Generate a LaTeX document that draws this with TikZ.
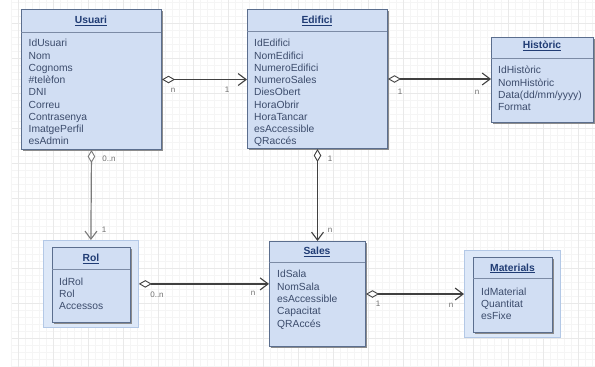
\documentclass[tikz,border=0pt]{standalone}
\usepackage{fontspec}
\setmainfont{Liberation Sans}
\usetikzlibrary{arrows.meta}
\definecolor{boxfill}{HTML}{D1DEF3}
\definecolor{boxdraw}{HTML}{5B6E8E}
\definecolor{outerfill}{HTML}{DDE8F8}
\definecolor{outerdraw}{HTML}{B3C8E6}
\definecolor{titlecol}{HTML}{203C74}
\definecolor{attrcol}{HTML}{3C4C6C}
\definecolor{linecol}{HTML}{404040}
\definecolor{lightline}{HTML}{7A7A7A}
\definecolor{labcol}{HTML}{707070}
\definecolor{gridminor}{HTML}{F5F5F5}
\definecolor{gridmajor}{HTML}{E9E9E9}
\tikzset{
  classbox/.style={draw=boxdraw, fill=boxfill, line width=1pt, inner sep=0pt, anchor=north west},
  shadowbox/.style={fill=black!45, draw=none, inner sep=0pt, anchor=north west},
  outerbox/.style={draw=outerdraw, fill=outerfill, line width=0.8pt, inner sep=0pt, anchor=north west},
  sepline/.style={draw=boxdraw!80, line width=0.8pt},
  ctitle/.style={font=\fontsize{10.3}{12}\selectfont\bfseries, text=titlecol, inner sep=0pt, anchor=base},
  attr/.style={font=\fontsize{10.3}{12}\selectfont, text=attrcol, anchor=base west, inner sep=0pt},
  rel/.style={draw=linecol, line width=1.2pt,
    {Diamond[fill=white,length=13pt,width=7.5pt,line width=0.9pt]}-{Straight Barb[length=8pt,width=12pt,line width=1.1pt]}},
  rellight/.style={rel, draw=lightline},
  card/.style={font=\fontsize{8}{9}\selectfont, text=labcol, inner sep=0pt}
}
\begin{document}
\begin{tikzpicture}[x=1pt,y=-1pt]
\useasboundingbox (0,0) rectangle (595,367);
\fill[white] (0,0) rectangle (595,367);
% grid
\foreach \x in {11,18,...,595} \draw[gridminor, line width=0.5pt] (\x,0) -- (\x,367);
\foreach \y in {2,9,...,367} \draw[gridminor, line width=0.5pt] (12,\y) -- (595,\y);
\foreach \x in {18,53,...,595} \draw[gridmajor, line width=0.6pt] (\x,0) -- (\x,367);
\foreach \y in {23,58,...,367} \draw[gridmajor, line width=0.6pt] (12,\y) -- (595,\y);

% ---------- Usuari
\node[shadowbox, minimum width=140pt, minimum height=140pt] (usuari-sh) at (22.5,10.5) {};
\node[classbox, minimum width=140pt, minimum height=140pt] (usuari) at (21,9) {};
\draw[sepline] (21,32) -- (161,32);
\node[ctitle] (usuari-t) at (91,23.5) {\underline{Usuari}};
\foreach \t [count=\i from 0] in {IdUsuari,Nom,Cognoms,\#telèfon,DNI,Correu,Contrasenya,ImatgePerfil,esAdmin}
  \node[attr] (usuari-a\i) at (28.5,46.8+12.25*\i) {\t};

% ---------- Edifici
\node[shadowbox, minimum width=140pt, minimum height=139pt] (edifici-sh) at (248.5,10.5) {};
\node[classbox, minimum width=140pt, minimum height=139pt] (edifici) at (247,9) {};
\draw[sepline] (247,31) -- (387,31);
\node[ctitle] (edifici-t) at (317,23.5) {\underline{Edifici}};
\foreach \t [count=\i from 0] in {IdEdifici,NomEdifici,NumeroEdifici,NumeroSales,DiesObert,HoraObrir,HoraTancar,esAccessible,QRaccés}
  \node[attr] (edifici-a\i) at (254,46.8+12.25*\i) {\t};

% ---------- Historic
\node[shadowbox, minimum width=102pt, minimum height=85pt] (historic-sh) at (492.5,38.5) {};
\node[classbox, minimum width=102pt, minimum height=85pt] (historic) at (491,37) {};
\draw[sepline] (491,58) -- (593,58);
\node[ctitle] (historic-t) at (542,48.7) {\underline{Històric}};
\foreach \t [count=\i from 0] in {IdHistòric,NomHistòric,Data(dd/mm/yyyy),Format}
  \node[attr] (historic-a\i) at (498,73.8+12.3*\i) {\t};

% ---------- Rol
\node[outerbox, minimum width=95pt, minimum height=87pt] (rolout) at (43,240) {};
\node[shadowbox, minimum width=78pt, minimum height=75pt] (rol-sh) at (53.5,248.5) {};
\node[classbox, minimum width=78pt, minimum height=75pt] (rol) at (52,247) {};
\draw[sepline] (52,269) -- (130,269);
\node[ctitle] (rol-t) at (91,261.5) {\underline{Rol}};
\foreach \t [count=\i from 0] in {IdRol,Rol,Accessos}
  \node[attr] (rol-a\i) at (59,285.5+12.2*\i) {\t};

% ---------- Sales
\node[shadowbox, minimum width=96pt, minimum height=105pt] (sales-sh) at (270.5,242.5) {};
\node[classbox, minimum width=96pt, minimum height=105pt] (sales) at (269,241) {};
\draw[sepline] (269,262) -- (365,262);
\node[ctitle] (sales-t) at (317,254.3) {\underline{Sales}};
\foreach \t [count=\i from 0] in {IdSala,NomSala,esAccessible,Capacitat,QRAccés}
  \node[attr] (sales-a\i) at (277,277.8+12.3*\i) {\t};

% ---------- Materials
\node[outerbox, minimum width=96pt, minimum height=87pt] (matout) at (464,250) {};
\node[shadowbox, minimum width=79pt, minimum height=75pt] (mat-sh) at (474.5,258.5) {};
\node[classbox, minimum width=79pt, minimum height=75pt] (mat) at (473,257) {};
\draw[sepline] (473,278) -- (552,278);
\node[ctitle] (mat-t) at (512.5,271) {\underline{Materials}};
\foreach \t [count=\i from 0] in {IdMaterial,Quantitat,esFixe}
  \node[attr] (mat-a\i) at (481,295.5+12.2*\i) {\t};

% ---------- relations
\draw[rel] (usuari.east) -- (usuari.east -| edifici.west);
\draw[rel] (edifici.east) -- (edifici.east -| historic.west);
\draw[rellight] (usuari.south) -- (rolout.north);
\draw[rel] (edifici.south) -- (sales.north);
\draw[rel] (rolout.east) -- (rolout.east -| sales.west);
\draw[rel] (sales.east) -- (sales.east -| matout.west);

% ---------- cardinalities
\node[card] (c1) at (173,90) {n};
\node[card] (c2) at (227,90) {1};
\node[card] (c3) at (400,92) {1};
\node[card] (c4) at (477,92) {n};
\node[card] (c5) at (109,159) {0..n};
\node[card] (c6) at (104,230) {1};
\node[card] (c7) at (330,159) {1};
\node[card] (c8) at (330,230) {n};
\node[card] (c9) at (157,295) {0..n};
\node[card] (c10) at (253,293) {n};
\node[card] (c11) at (378,304) {1};
\node[card] (c12) at (451,305) {n};
\end{tikzpicture}
\end{document}
